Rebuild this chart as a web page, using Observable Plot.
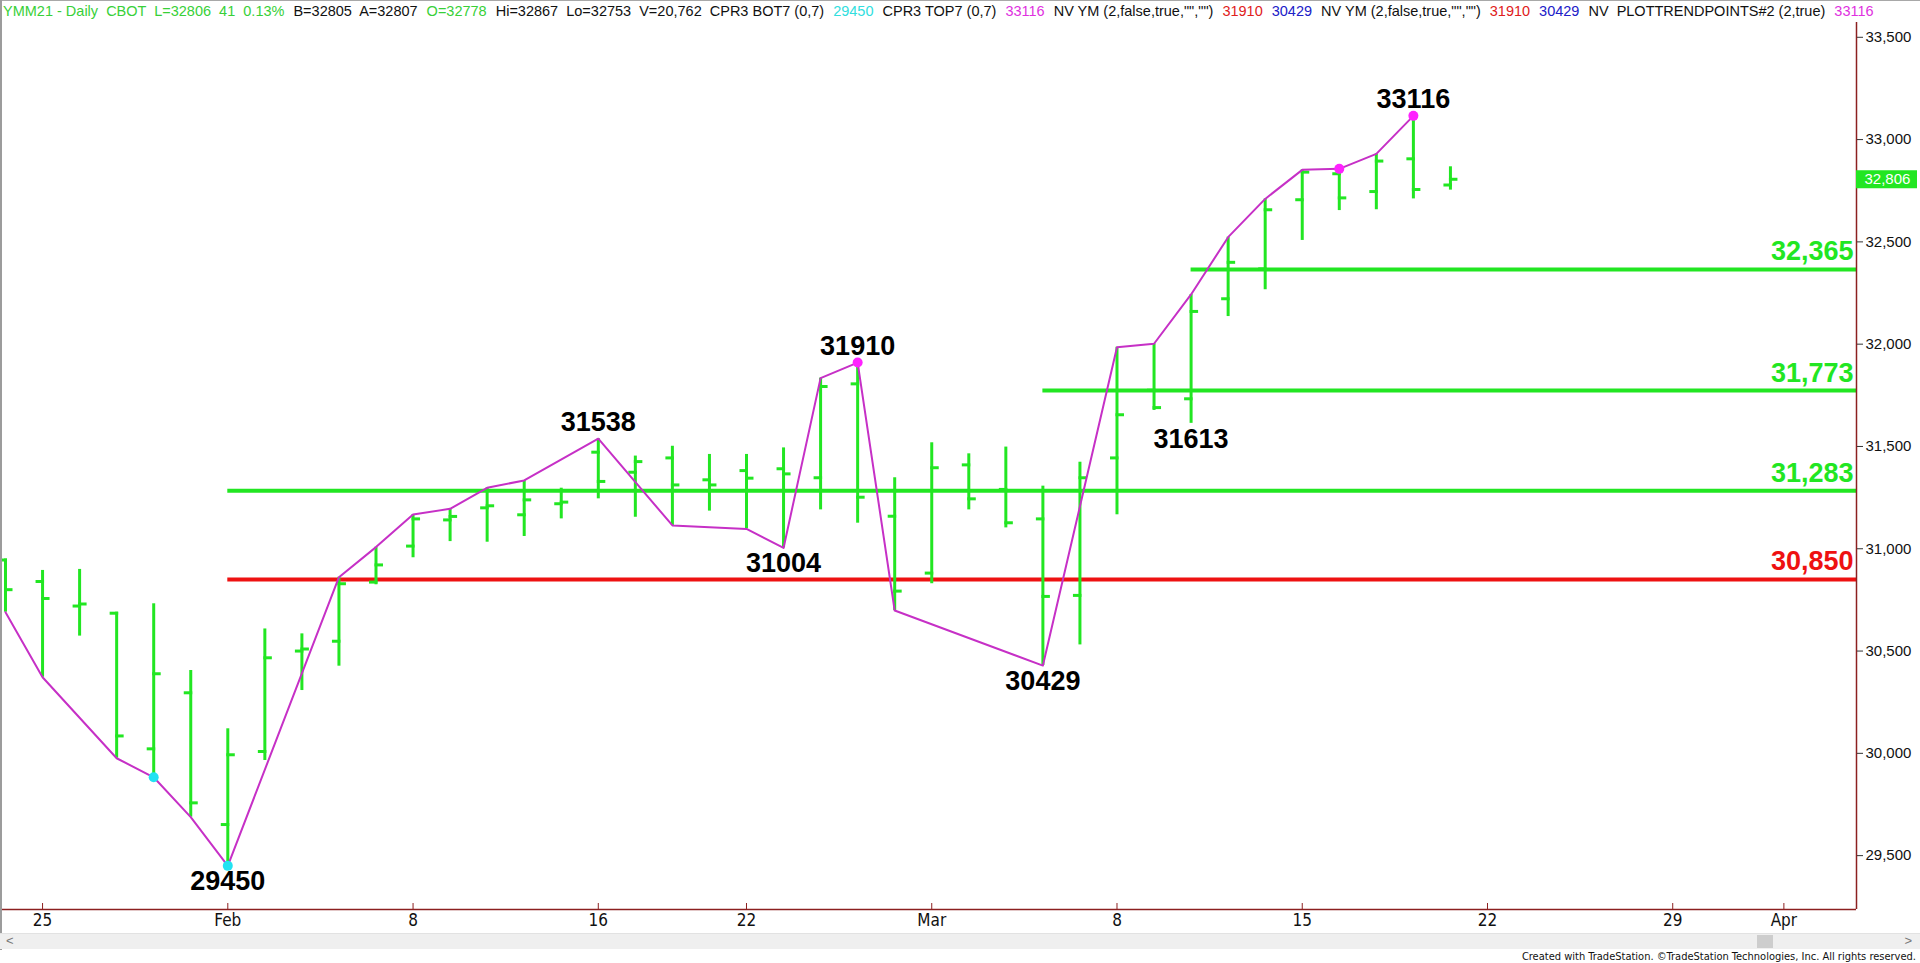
<!DOCTYPE html>
<html>
<head>
<meta charset="utf-8">
<script src="https://cdn.jsdelivr.net/npm/d3@7"></script>
<script src="https://cdn.jsdelivr.net/npm/@observablehq/plot@0.6"></script>
<style>
  html, body { margin: 0; padding: 0; background: #fff; }
  body { width: 1920px; height: 963px; overflow: hidden; position: relative; font-family: "Liberation Sans", Arial, sans-serif; }
  #header { position: absolute; left: 0; top: 0; width: 1920px; height: 22px; box-sizing: border-box; border-top: 1px solid #a8a8a8; font-size: 14.5px; line-height: 20px; white-space: pre; padding-left: 3px; }
  #header span { margin-right: 9px; }
  #chart { position: absolute; left: 0; top: 22px; }
  #leftline { position: absolute; left: 0; top: 0; width: 2px; height: 950px; background: #9c9c9c; }
  #scroll { position: absolute; left: 0; top: 933px; width: 1920px; height: 16px; background: #efefef; border-top: 1px solid #e2e2e2; box-sizing: border-box; font-size: 13px; line-height: 14px; color: #777; }
  #scroll .l { position: absolute; left: 6px; top: 0; }
  #scroll .r { position: absolute; right: 8px; top: 0; }
  #scroll .thumb { position: absolute; left: 1757px; top: 1px; width: 16px; height: 13px; background: #cdcdcd; }
  #footer { position: absolute; right: 4px; top: 951px; font-family: "Liberation Sans Narrow", "DejaVu Sans Condensed", sans-serif; font-stretch: condensed; font-size: 11px; line-height: 12px; color: #111; }
</style>
</head>
<body>
<div id="header"></div>
<div id="chart"></div>
<div id="leftline"></div>
<div id="scroll"><span class="l">&lt;</span><div class="thumb"></div><span class="r">&gt;</span></div>
<div id="footer">Created with TradeStation. ©TradeStation Technologies, Inc. All rights reserved.</div>
<script>
// ---------------- DATA ----------------
const tradingDays = [
  "2021-01-22","2021-01-25","2021-01-26","2021-01-27","2021-01-28","2021-01-29",
  "2021-02-01","2021-02-02","2021-02-03","2021-02-04","2021-02-05",
  "2021-02-08","2021-02-09","2021-02-10","2021-02-11","2021-02-12",
  "2021-02-16","2021-02-17","2021-02-18","2021-02-19",
  "2021-02-22","2021-02-23","2021-02-24","2021-02-25","2021-02-26",
  "2021-03-01","2021-03-02","2021-03-03","2021-03-04","2021-03-05",
  "2021-03-08","2021-03-09","2021-03-10","2021-03-11","2021-03-12",
  "2021-03-15","2021-03-16","2021-03-17","2021-03-18","2021-03-19",
  "2021-03-22","2021-03-23","2021-03-24","2021-03-25","2021-03-26",
  "2021-03-29","2021-03-30","2021-03-31","2021-04-01","2021-04-02"
];
const barDates = tradingDays.slice(0, 40);
const opens  = [30945,30840,30720,30685,30022,30296,29652,30009,30500,30548,30837,31013,31141,31200,31166,31220,31472,31374,31444,31337,31382,31391,31347,31806,31159,30881,31410,31290,31146,30772,31444,31775,31733,32222,32368,32706,32833,32746,32906,32778];
const highs  = [30950,30894,30899,30690,30731,30405,30120,30608,30584,30861,31008,31167,31195,31298,31334,31296,31538,31453,31501,31461,31461,31493,31834,31910,31347,31518,31464,31497,31306,31423,31985,32002,32243,32523,32710,32852,32857,32930,33116,32867];
const lows   = [30690,30372,30573,29976,29883,29688,29450,29965,30307,30426,30824,30956,31035,31032,31060,31146,31244,31154,31114,31184,31097,31004,31190,31125,30698,30829,31190,31102,30429,30530,31166,31676,31613,32135,32266,32507,32653,32657,32710,32753];
const closes = [30800,30757,30730,30085,30389,29758,29993,30467,30510,30829,30921,31146,31158,31210,31239,31228,31329,31426,31312,31312,31345,31366,31793,31252,30793,31396,31244,31127,30767,31347,31655,31690,32160,32400,32657,32841,32715,32895,32756,32806];

const swingDates  = ["2021-01-22","2021-01-25","2021-01-27","2021-01-28","2021-01-29","2021-02-01","2021-02-04","2021-02-05","2021-02-08","2021-02-09","2021-02-10","2021-02-11","2021-02-16","2021-02-18","2021-02-22","2021-02-23","2021-02-24","2021-02-25","2021-02-26","2021-03-04","2021-03-08","2021-03-09","2021-03-10","2021-03-11","2021-03-12","2021-03-15","2021-03-16","2021-03-17","2021-03-18"];
const swingPrices = [30690,30372,29976,29883,29688,29450,30861,31008,31167,31195,31298,31334,31538,31114,31097,31004,31834,31910,30698,30429,31985,32002,32243,32523,32710,32852,32857,32930,33116];

const lowDotDates = ["2021-01-28","2021-02-01"];
const lowDotPrices = [29883, 29450];
const highDotDates = ["2021-02-25","2021-03-16","2021-03-18"];
const highDotPrices = [31910, 32857, 33116];

const peakLabelDates = ["2021-02-16","2021-02-25","2021-03-18"];
const peakLabelValues = [31538, 31910, 33116];
const troughLabelDates = ["2021-02-01","2021-02-23","2021-03-04","2021-03-10"];
const troughLabelValues = [29450, 31004, 30429, 31613];

const levelPrices = [32365, 31773, 31283, 30850];
const levelStarts = ["2021-03-10","2021-03-04","2021-02-01","2021-02-01"];
const levelKinds  = ["target","target","target","stop"];

const yTicks = [29500,30000,30500,31000,31500,32000,32500,33000,33500];
const xTickDates  = ["2021-01-25","2021-02-01","2021-02-08","2021-02-16","2021-02-22","2021-03-01","2021-03-08","2021-03-15","2021-03-22","2021-03-29","2021-04-01"];
const xTickLabels = ["25","Feb","8","16","22","Mar","8","15","22","29","Apr"];

const lastPrice = 32806;

const headerParts = [
  ["YMM21 - Daily  CBOT  L=32806  41  0.13%", "g"],
  ["B=32805  A=32807", "k"],
  ["O=32778", "g"],
  ["Hi=32867  Lo=32753  V=20,762  CPR3 BOT7 (0,7)", "k"],
  ["29450", "c"],
  ["CPR3 TOP7 (0,7)", "k"],
  ["33116", "m"],
  ["NV YM (2,false,true,\"\",\"\")", "k"],
  ["31910", "r"],
  ["30429", "b"],
  ["NV YM (2,false,true,\"\",\"\")", "k"],
  ["31910", "r"],
  ["30429", "b"],
  ["NV  PLOTTRENDPOINTS#2 (2,true)", "k"],
  ["33116", "m"]
];

// ---------------- STYLE ----------------
const GREEN = "#22e622";
const RED = "#ee1111";
const MAGENTA_LINE = "#c630c6";
const MAGENTA_DOT = "#ff22ff";
const CYAN_DOT = "#22e2f2";
const AXIS = "#8c2020";
const headerColors = {g: "#38d038", k: "#111", c: "#30dede", m: "#e030e0", r: "#e02020", b: "#2020c8"};

const header = document.getElementById("header");
headerParts.forEach(([t, c]) => {
  const s = document.createElement("span");
  s.textContent = t;
  s.style.color = headerColors[c];
  header.appendChild(s);
});

// ---------------- CHART ----------------
const idx = new Map(tradingDays.map((d, i) => [d, i]));
const W = 1920, H = 912, mR = 64, mB = 25;
const xDomain = [-0.135, 49.96];
const yDomain = [29236.7, 33572.3];
const pxPerIdx = (W - mR) / (xDomain[1] - xDomain[0]);
const pricePerPx = (yDomain[1] - yDomain[0]) / (H - mB);

const bars = barDates.map((d, i) => ({i: idx.get(d), o: opens[i], h: highs[i], l: lows[i], c: closes[i]}));
const swing = swingDates.map((d, i) => ({i: idx.get(d), p: swingPrices[i]}));
const lowDots = lowDotDates.map((d, i) => ({i: idx.get(d), p: lowDotPrices[i]}));
const highDots = highDotDates.map((d, i) => ({i: idx.get(d), p: highDotPrices[i]}));
const peaks = peakLabelDates.map((d, i) => ({i: idx.get(d), p: peakLabelValues[i]}));
const troughs = troughLabelDates.map((d, i) => ({i: idx.get(d), p: troughLabelValues[i]}));
const levels = levelPrices.map((p, i) => ({p, start: idx.get(levelStarts[i]), kind: levelKinds[i]}));
const xTicks = xTickDates.map(d => idx.get(d));
const tickLabelOf = new Map(xTicks.map((v, i) => [v, xTickLabels[i]]));
const levelColor = k => k === "stop" ? RED : GREEN;
const tickLen = 7 / pxPerIdx;
const comma = d3.format(",");

const chart = Plot.plot({
  width: W,
  height: H,
  marginLeft: 0,
  marginRight: mR,
  marginTop: 0,
  marginBottom: mB,
  style: {fontFamily: "'Liberation Sans', Arial, sans-serif", background: "transparent", overflow: "visible", color: "#111"},
  x: {type: "linear", domain: xDomain},
  y: {type: "linear", domain: yDomain},
  marks: [
    // level lines
    Plot.ruleY(levels, {y: "p", x1: "start", x2: xDomain[1], stroke: d => levelColor(d.kind), strokeWidth: 4}),
    // OHLC bars
    Plot.ruleX(bars, {x: "i", y1: "l", y2: "h", stroke: GREEN, strokeWidth: 3}),
    Plot.link(bars, {x1: d => d.i - tickLen, x2: d => d.i + 1.5 / pxPerIdx, y1: "o", y2: "o", stroke: GREEN, strokeWidth: 3}),
    Plot.link(bars, {x1: d => d.i - 1.5 / pxPerIdx, x2: d => d.i + tickLen, y1: "c", y2: "c", stroke: GREEN, strokeWidth: 3}),
    // swing line
    Plot.line(swing, {x: "i", y: "p", stroke: MAGENTA_LINE, strokeWidth: 2}),
    Plot.dot(lowDots, {x: "i", y: "p", r: 5, fill: CYAN_DOT}),
    Plot.dot(highDots, {x: "i", y: "p", r: 5, fill: MAGENTA_DOT}),
    // pivot labels
    Plot.text(peaks, {x: "i", y: "p", text: d => String(d.p), lineAnchor: "bottom", dy: -8, fontSize: 27, fontWeight: "bold", fill: "#000"}),
    Plot.text(troughs, {x: "i", y: "p", text: d => String(d.p), lineAnchor: "top", dy: 5, fontSize: 27, fontWeight: "bold", fill: "#000"}),
    // level labels
    Plot.text(levels, {x: xDomain[1], y: "p", text: d => comma(d.p), textAnchor: "end", lineAnchor: "bottom", dx: -3, dy: -9, fontSize: 27, fontWeight: "bold", fill: d => levelColor(d.kind)}),
    // axes
    Plot.ruleY([yDomain[0]], {stroke: AXIS, strokeWidth: 1.5}),
    Plot.ruleX([xDomain[1]], {stroke: AXIS, strokeWidth: 1.5}),
    Plot.ruleX(xTicks, {x: d => d, y1: yDomain[0], y2: yDomain[0] + 6 * pricePerPx, stroke: AXIS, strokeWidth: 1}),
    Plot.axisX({ticks: xTicks, tickFormat: d => tickLabelOf.get(d), tickSize: 0, tickPadding: 4, fontSize: 17, fontFamily: "'Liberation Sans Narrow', 'DejaVu Sans Condensed', sans-serif", fill: "#111"}),
    Plot.axisY({anchor: "right", ticks: yTicks, tickFormat: comma, tickSize: 6, tickPadding: 3, fontSize: 15, fill: "#111", stroke: "#333"}),
    // last price marker
    Plot.ruleY([lastPrice], {x1: xDomain[1], x2: xDomain[1] + 61 / pxPerIdx, stroke: GREEN, strokeWidth: 18}),
    Plot.text([lastPrice], {x: xDomain[1], y: d => d, text: d => comma(d), textAnchor: "start", dx: 8, fontSize: 15, fill: "#fff"})
  ]
});
document.getElementById("chart").appendChild(chart);
</script>
</body>
</html>
